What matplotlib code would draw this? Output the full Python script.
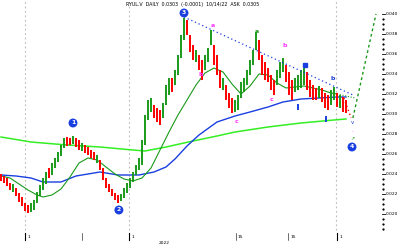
import matplotlib
matplotlib.use("Agg")
import matplotlib.pyplot as plt

# ---- price bars (daily) ----
hi = [0.0240,0.0238,0.0236,0.0231,0.0230,0.0226,0.0221,0.0217,0.0211,0.0209,
      0.0211,0.0214,0.0222,0.0229,0.0236,0.0242,0.0246,0.0251,0.0256,0.0262,
      0.0269,0.0276,0.0277,0.0276,0.0278,0.0276,0.0274,0.0271,0.0269,0.0267,
      0.0264,0.0262,0.0259,0.0254,0.0246,0.0236,0.0230,0.0225,0.0221,0.0219,
      0.0220,0.0226,0.0231,0.0236,0.0242,0.0249,0.0256,0.0274,0.0299,0.0314,
      0.0316,0.0309,0.0306,0.0304,0.0311,0.0329,0.0336,0.0336,0.0344,0.0359,
      0.0379,0.0396,0.0394,0.0379,0.0369,0.0364,0.0359,0.0354,0.0359,0.0366,
      0.0384,0.0369,0.0359,0.0344,0.0336,0.0329,0.0321,0.0316,0.0314,0.0319,
      0.0332,0.0336,0.0344,0.0354,0.0364,0.0382,0.0374,0.0359,0.0352,0.0346,
      0.0339,0.0334,0.0344,0.0352,0.0356,0.0349,0.0342,0.0334,0.0336,0.0339,
      0.0344,0.0346,0.0342,0.0334,0.0329,0.0326,0.0328,0.0326,0.0321,0.0319,
      0.0324,0.0327,0.0321,0.0319,0.0317,0.0314]
lo = [0.0233,0.0231,0.0228,0.0224,0.0222,0.0218,0.0212,0.0208,0.0203,0.0201,
      0.0202,0.0204,0.0211,0.0218,0.0224,0.0230,0.0236,0.0239,0.0246,0.0252,
      0.0258,0.0266,0.0268,0.0269,0.0270,0.0267,0.0264,0.0263,0.0261,0.0259,
      0.0256,0.0254,0.0251,0.0244,0.0234,0.0226,0.0222,0.0218,0.0214,0.0211,
      0.0213,0.0216,0.0221,0.0226,0.0232,0.0239,0.0244,0.0249,0.0269,0.0294,
      0.0302,0.0296,0.0292,0.0289,0.0296,0.0309,0.0319,0.0322,0.0329,0.0339,
      0.0356,0.0374,0.0379,0.0362,0.0354,0.0352,0.0344,0.0334,0.0344,0.0352,
      0.0369,0.0349,0.0339,0.0326,0.0324,0.0314,0.0306,0.0301,0.0302,0.0304,
      0.0316,0.0322,0.0329,0.0339,0.0349,0.0364,0.0354,0.0339,0.0334,0.0332,
      0.0324,0.0319,0.0329,0.0336,0.0342,0.0332,0.0319,0.0314,0.0322,0.0324,
      0.0326,0.0329,0.0324,0.0317,0.0314,0.0314,0.0316,0.0312,0.0306,0.0304,
      0.0309,0.0314,0.0307,0.0306,0.0302,0.0301]
close = [0.0234,0.0232,0.0229,0.0225,0.0229,0.0219,0.0213,0.0209,0.0204,0.0202,
         0.0210,0.0213,0.0221,0.0228,0.0235,0.0241,0.0237,0.0250,0.0255,0.0261,
         0.0268,0.0275,0.0270,0.0269,0.0277,0.0268,0.0265,0.0270,0.0262,0.0260,
         0.0257,0.0255,0.0258,0.0245,0.0235,0.0227,0.0223,0.0219,0.0215,0.0212,
         0.0219,0.0225,0.0230,0.0235,0.0241,0.0248,0.0255,0.0272,0.0297,0.0312,
         0.0315,0.0298,0.0294,0.0291,0.0310,0.0327,0.0334,0.0324,0.0342,0.0357,
         0.0377,0.0393,0.0381,0.0364,0.0356,0.0362,0.0346,0.0336,0.0357,0.0364,
         0.0382,0.0351,0.0341,0.0328,0.0334,0.0316,0.0308,0.0303,0.0312,0.0318,
         0.0330,0.0334,0.0342,0.0352,0.0362,0.0380,0.0356,0.0341,0.0336,0.0334,
         0.0326,0.0321,0.0342,0.0350,0.0354,0.0334,0.0321,0.0316,0.0334,0.0337,
         0.0342,0.0344,0.0326,0.0319,0.0316,0.0315,0.0326,0.0314,0.0308,0.0306,
         0.0322,0.0325,0.0309,0.0317,0.0304,0.0303]

# ---- moving averages (sampled) ----
ma_fast_x = [0,3,6,9,12,14,17,20,23,26,29,32,35,38,41,44,47,50,53,56,59,62,65,68,
             71,74,77,80,83,86,89,92,95,98,101,104,107,110,112]
ma_fast = [0.0238,0.0236,0.0230,0.0224,0.0219,0.0217,0.0219,0.0225,0.0237,0.0251,
           0.0256,0.0254,0.0247,0.0240,0.0235,0.0233,0.0236,0.0246,0.0264,0.0282,
           0.0299,0.0314,0.0329,0.0341,0.0346,0.0342,0.0330,0.0320,0.0328,0.0340,
           0.0339,0.0331,0.0326,0.0327,0.0328,0.0326,0.0324,0.0321,0.0320]
ma_fast_proj_x = [112,115,118]
ma_fast_proj = [0.0320,0.0318,0.0316]

ma_mid_x = [0,5,10,14,20,25,33,39,46,51,55,58,62,66,72,78,83,89,94,100,106,112,115]
ma_mid = [0.0239,0.0238,0.0236,0.0232,0.0232,0.0238,0.0242,0.0239,0.0239,0.0242,
          0.0247,0.0255,0.0268,0.0279,0.0292,0.0298,0.0302,0.0307,0.0312,0.0315,
          0.0316,0.0317,0.0317]

ma_slow_x = [0,10,22,33,44,48,55,64,72,78,89,100,111,115]
ma_slow = [0.0277,0.0272,0.0269,0.0267,0.0264,0.0263,0.0267,0.0273,0.0278,0.0282,
           0.0287,0.0291,0.0294,0.0295]

# ---- trendline and projection ----
trend_x = [61, 117.3]
trend_y = [0.0397, 0.0319]
proj_down_x = [114.3, 116.7]
proj_down_y = [0.0316, 0.0296]
proj_up_x = [117.3, 125]
proj_up_y = [0.0296, 0.0400]

# ---- wave labels ----
waves = ["1", "2", "3", "4"]
wave_x = [24, 39.3, 61, 117]
wave_y = [0.0291, 0.0204, 0.0401, 0.0267]

sub_labels = ["b", "a", "c", "a", "b", "c", "b"]
sub_x = [66.7, 70.7, 78.7, 85.3, 94.7, 90.3, 110.7]
sub_y = [0.0339, 0.0388, 0.0292, 0.0382, 0.0368, 0.0314, 0.0335]
sub_col = ["#ff33ff", "#ff33ff", "#ff33ff", "#1a9a1a", "#ff33ff", "#ff33ff", "#1a3fe0"]

yticks = [0.040, 0.038, 0.036, 0.034, 0.032, 0.030, 0.028, 0.026, 0.024, 0.022, 0.020]
grid_x = [8, 42.7, 111.7]
xtick_x = [8, 27, 42.7, 78.3, 95.7, 112]
xtick_lab = ["1", "", "1", "15", "15", "1"]

GREEN = "#1a9a1a"
RED = "#ff0000"
BLUE = "#1a3fe0"
LIME = "#33ee22"

fig = plt.figure(figsize=(4.0, 2.45), dpi=100)
ax = fig.add_axes([0, 0, 1, 1])
ax.axis("off")
ax.set_xlim(-1/3, 133)
ax.set_ylim(0.0169, 0.0414)

for gx in grid_x:
    ax.plot([gx, gx], [0.0184, 0.0414], color="#bbbbbb", lw=0.8, ls=(0, (1.5, 2.5)), zorder=0)

ax.plot(ma_slow_x, ma_slow, color=LIME, lw=1.1, zorder=2)
ax.plot(ma_mid_x, ma_mid, color=BLUE, lw=1.0, zorder=2)
ax.plot(ma_fast_x, ma_fast, color=GREEN, lw=0.8, zorder=3)
ax.plot(ma_fast_proj_x, ma_fast_proj, color=GREEN, lw=0.8, ls=(0, (1, 1.5)), zorder=3)

cols = []
for i in range(len(close)):
    if i == 0:
        up = close[0] >= (hi[0] + lo[0]) / 2
    else:
        up = close[i] >= close[i - 1]
    cols.append(GREEN if up else RED)
ax.vlines(range(len(close)), lo, hi, colors=cols, lw=1.4, zorder=4)

ax.plot(trend_x, trend_y, color=BLUE, lw=0.9, ls=(0, (1, 2.2)), zorder=5)
ax.plot(proj_down_x, proj_down_y, color=RED, lw=1.0, ls=(0, (1, 2)), zorder=5)
ax.plot(proj_up_x, proj_up_y, color=GREEN, lw=1.0, ls=(0, (2, 2)), zorder=5)

for t, x, y in zip(waves, wave_x, wave_y):
    ax.text(x, y, t, color="white", fontsize=4.4, fontweight="bold", ha="center", va="center",
            bbox=dict(boxstyle="circle,pad=0.32", fc=BLUE, ec="none"), zorder=6)
for t, x, y, c in zip(sub_labels, sub_x, sub_y, sub_col):
    ax.text(x, y, t, color=c, fontsize=4.5, fontweight="bold", ha="center", va="center", zorder=6)

# small markers near the last bars
ax.plot([101.3], [0.0349], marker="s", ms=2.2, color=BLUE, ls="none", zorder=6)
ax.vlines([99, 108.3], [0.0304, 0.0292], [0.0310, 0.0298], colors=BLUE, lw=1.4, zorder=6)
ax.text(117, 0.0291, "v", color=BLUE, fontsize=4, ha="center", va="center", zorder=6)
ax.text(117, 0.0282, "·", color="#ff33ff", fontsize=4, ha="center", va="center", zorder=6)
ax.text(117.3, 0.0276, "↗", color=GREEN, fontsize=3.5, ha="center", va="center", zorder=6)

# right price scale
for yt in yticks:
    ax.plot([127.0, 128.0], [yt, yt], color="black", lw=0.6, zorder=6)
    ax.text(128.4, yt, f"{yt:.3f}", fontsize=3.2, color="black", ha="left", va="center", zorder=6)
    for k in (1, 2, 3):
        ax.plot([127.3], [yt - k * 0.0005], marker="s", ms=0.6, color="black", zorder=6)

# bottom date axis
for x, lab in zip(xtick_x, xtick_lab):
    ax.plot([x, x], [0.0174, 0.0181], color="black", lw=0.8 if lab in ("1",) else 0.4, zorder=6)
    if lab:
        ax.text(x + 0.7, 0.0177, lab, fontsize=3.2, color="black", ha="left", va="center")
ax.text(54.5, 0.0171, "2022", fontsize=3.2, color="black", ha="center", va="center")

ax.text(64, 0.0409, "RYUL.V  DAILY  0.0303  (-0.0001)  10/14/22  ASK  0.0305", fontsize=3.4,
        color="black", ha="center", va="center")

fig.savefig("out.png", dpi=100)
